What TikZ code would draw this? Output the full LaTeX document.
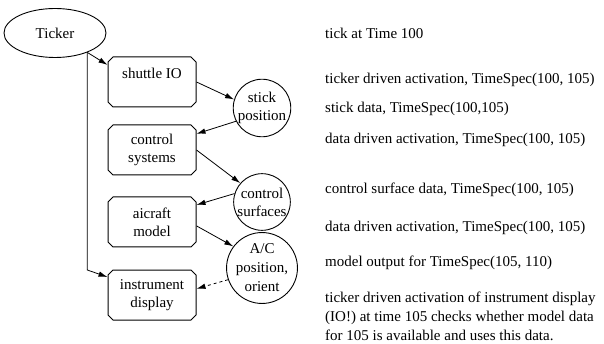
\documentclass[tikz,border=0pt]{standalone}
\usepackage{fontspec}
\setmainfont{Liberation Serif}
\usetikzlibrary{arrows.meta,shapes.misc,shapes.geometric}

\begin{document}
\begin{tikzpicture}[x=1pt,y=-1pt,
	font=\fontsize{15}{18}\selectfont,
	task/.style={draw,line width=1pt,chamfered rectangle,chamfered rectangle xsep=2.5pt,chamfered rectangle ysep=2.5pt,minimum width=88pt,minimum height=50pt,inner sep=0pt,align=center},
	datum/.style={draw,line width=0.9pt,circle,minimum size=56pt,inner sep=0pt,align=center},
	flow/.style={line width=0.8pt,-{Latex[length=9pt,width=5.5pt]}},
	note/.style={anchor=west,inner sep=0pt,align=left}]
		%%%%% START %%%%%
		\useasboundingbox (0,0) rectangle (604,344);
		
		\node[draw,line width=0.9pt,ellipse,minimum width=102pt,minimum height=49pt,inner sep=0pt] (ticker) at (55,33) {Ticker};
		
		\node[task] (shuttle) at (152,82) {shuttle IO\\\mbox{}};
		\node[task] (ctrl) at (152,150) {control\\systems};
		\node[task] (model) at (152,222) {aicraft\\model};
		\node[task] (instr) at (152,295) {instrument\\display};
		
		\node[datum] (stick) at (262,108) {stick\\position};
		\node[datum] (surf) at (262,202) {control\\surfaces};
		\node[datum,font=\fontsize{15}{19}\selectfont] (pos) at (262,268) {A/C\\position,\\orient};
		
		\coordinate (bend) at (87,270);
		\draw[flow] (ticker.-31) -- (shuttle.159);
		\draw[flow] (ticker.-31) -- (ticker.-31 |- bend) -- (instr.158);
		
		\draw[flow] (shuttle.east) -- (stick.163);
		\draw[flow] (stick.207) -- (ctrl.20);
		\draw[flow] (ctrl.east) -- (surf.139);
		\draw[flow] (surf.163) -- (model.21);
		\draw[flow] (model.-5) -- (pos.143);
		\draw[flow,dashed] (pos.199) -- (instr.8);
		
		\node[note] (n1) at (325,33) {tick at Time 100};
		\node[note] (n2) at (325,80) {ticker driven activation, TimeSpec(100, 105)};
		\node[note] (n3) at (325,109) {stick data, TimeSpec(100,105)};
		\node[note] (n4) at (325,140) {data driven activation, TimeSpec(100, 105)};
		\node[note] (n5) at (325,190) {control surface data, TimeSpec(100, 105)};
		\node[note] (n6) at (325,228) {data driven activation, TimeSpec(100, 105)};
		\node[note] (n7) at (325,263) {model output for TimeSpec(105, 110)};
		\node[note,font=\fontsize{15}{19}\selectfont] (n8) at (325,316) {ticker driven activation of instrument display\\(IO!) at time 105 checks whether model data\\for 105 is available and uses this data.};
		%%%%% END %%%%%
\end{tikzpicture}
\end{document}
